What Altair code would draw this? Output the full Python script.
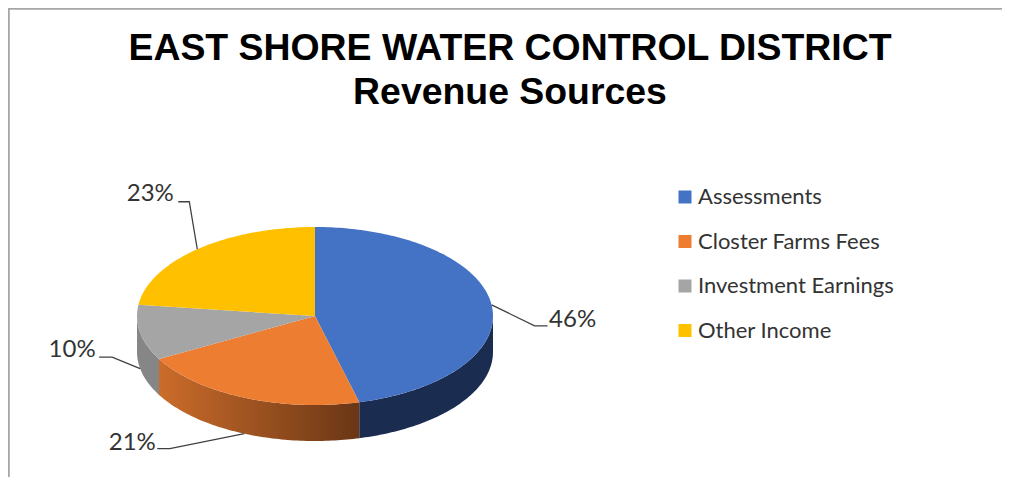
import math
import altair as alt
import pandas as pd

categories = ["Assessments", "Closter Farms Fees", "Investment Earnings", "Other Income"]
shares = [46, 21, 10, 23]
top_colors = ["#4472C4", "#ED7D31", "#A5A5A5", "#FFC000"]
labels = ["46%", "21%", "10%", "23%"]
title_lines = ["EAST SHORE WATER CONTROL DISTRICT", "Revenue Sources"]

W, H = 994, 469
CX, CY, RX, RY, DEPTH = 307.0, 308.0, 178.0, 89.0, 36.0
depth_units = DEPTH / RY
x_domain = [-CX / RX, (W - CX) / RX]
y_domain = [(CY - H) / RY, CY / RY]

# leader offsets from the rim anchor of each slice, in plot pixels (elbow, end, label)
elbow_dx = [43, -74.5, -28, -8]
elbow_dy = [21, 15, -11.6, -47.5]
end_dx = [56, -87, -41, -19]
label_dx = [81, -112, -68, -47]
label_dy = [15, 9, -18.6, -55.5]


def rim(deg):
    a = math.radians(deg)
    return math.sin(a), math.cos(a)


top_rows, wall_rows, leader_rows, label_rows = [], [], [], []
start = 0.0
for i, cat in enumerate(categories):
    sweep = shares[i] * 3.6
    end = start + sweep
    steps = max(2, int(sweep))
    pts = [(0.0, 0.0)] + [rim(start + sweep * k / steps) for k in range(steps + 1)] + [(0.0, 0.0)]
    for s, (px, py) in enumerate(pts):
        top_rows.append(dict(cat=cat, seq=s, x=px, y=py))
    lo, hi = max(start, 90.0), min(end, 270.0)
    if hi > lo:
        n = max(2, int(hi - lo))
        arc = [rim(lo + (hi - lo) * k / n) for k in range(n + 1)]
        outline = [(a, b) for a, b in arc] + [(a, b - depth_units) for a, b in reversed(arc)] + [arc[0]]
        for s, (px, py) in enumerate(outline):
            wall_rows.append(dict(cat=cat, seq=s, x=px, y=py))
    mid = start + sweep / 2
    ax, ay = rim(mid)
    if 90 < mid < 270:
        ay -= depth_units
    leader = [(ax, ay),
              (ax + elbow_dx[i] / RX, ay - elbow_dy[i] / RY),
              (ax + end_dx[i] / RX, ay - elbow_dy[i] / RY)]
    for s, (px, py) in enumerate(leader):
        leader_rows.append(dict(cat=cat, seq=s, x=px, y=py))
    label_rows.append(dict(cat=cat, label=labels[i],
                           x=ax + label_dx[i] / RX, y=ay - label_dy[i] / RY))
    start = end

top_df = pd.DataFrame(top_rows)
wall_df = pd.DataFrame(wall_rows)
leader_df = pd.DataFrame(leader_rows)
label_df = pd.DataFrame(label_rows)

x_enc = alt.X("x:Q", scale=alt.Scale(domain=x_domain, nice=False, zero=False), axis=None)
y_enc = alt.Y("y:Q", scale=alt.Scale(domain=y_domain, nice=False, zero=False), axis=None)
order = alt.Order("seq:Q")


def wall(cat, fill):
    return alt.Chart(wall_df[wall_df.cat == cat]).mark_line(
        fill=fill, strokeWidth=0, interpolate="linear"
    ).encode(x=x_enc, y=y_enc, order=order)


orange_grad = alt.Gradient(
    gradient="linear", x1=0, x2=1, y1=0, y2=0,
    stops=[alt.GradientStop(color="#CB6C2A", offset=0), alt.GradientStop(color="#6A3615", offset=1)],
)

walls = [wall(categories[0], "#1A2D50"), wall(categories[1], orange_grad), wall(categories[2], "#868686")]

tops = alt.Chart(top_df).mark_line(strokeWidth=0).encode(
    x=x_enc, y=y_enc, order=order,
    fill=alt.Fill("cat:N", scale=alt.Scale(domain=categories, range=top_colors), sort=categories,
                  legend=alt.Legend(
                      title=None, orient="none", legendX=666, legendY=178,
                      symbolType="square", symbolSize=169, symbolStrokeWidth=0,
                      labelFont="Lato", labelFontSize=22, labelColor="#333333", labelLimit=320,
                      labelOffset=2, rowPadding=22.5,
                  )),
    detail="cat:N",
)

leaders = alt.Chart(leader_df).mark_line(color="#404040", strokeWidth=1.3).encode(
    x=x_enc, y=y_enc, order=order, detail="cat:N"
)

texts = alt.Chart(label_df).mark_text(font="Lato", fontSize=24, color="#333333", align="center", baseline="middle").encode(
    x=x_enc, y=y_enc, text="label:N"
)

frame_top = alt.Chart(top_df.head(1)).mark_rule(color="#A6A6A6", strokeWidth=2).encode(
    x=alt.value(0), x2=alt.value(W), y=alt.value(0.8)
)
frame_left = alt.Chart(top_df.head(1)).mark_rule(color="#A6A6A6", strokeWidth=2).encode(
    x=alt.value(0.8), y=alt.value(0), y2=alt.value(H)
)

chart = alt.layer(frame_top, frame_left, *walls, tops, leaders, texts).properties(
    width=W, height=H, padding=0,
    autosize=alt.AutoSizeParams(type="none"),
    title=alt.TitleParams(
        text=title_lines, font="Liberation Sans", fontSize=37.4, fontWeight="bold", color="#000000",
        anchor="middle", lineHeight=44, baseline="top", dx=5, dy=108,
    ),
).configure_view(stroke=None)

chart.save("out.html", embed_options={"renderer": "svg", "actions": False})
